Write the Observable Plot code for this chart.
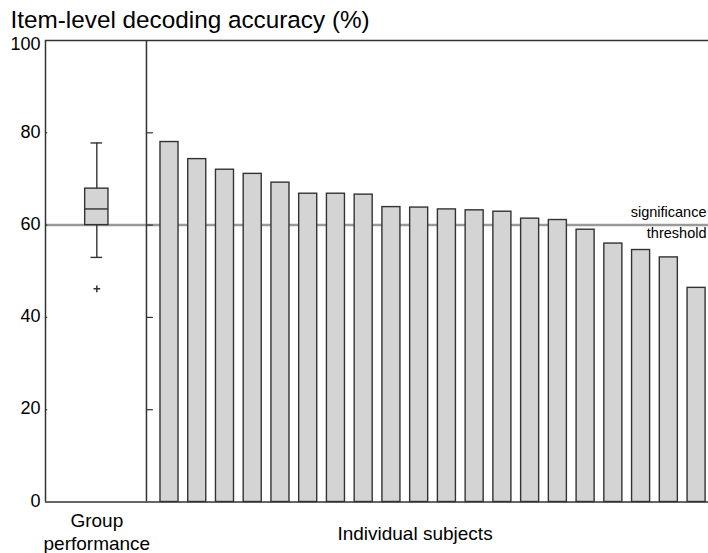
<!DOCTYPE html>
<html>
<head>
<meta charset="utf-8">
<script src="https://cdn.jsdelivr.net/npm/d3@7"></script>
<script src="https://cdn.jsdelivr.net/npm/@observablehq/plot@0.6"></script>
<style>
  html, body { margin: 0; padding: 0; background: #fff; }
  #chart svg { display: block; }
</style>
</head>
<body>
<div id="chart"></div>
<script>
// ---- Data ----
const title = "Item-level decoding accuracy (%)";
const subjectRank = d3.range(1, 21);
const accuracy = [78.0, 74.3, 72.0, 71.1, 69.2, 66.8, 66.8, 66.6, 63.9, 63.8,
                  63.4, 63.2, 62.9, 61.4, 61.1, 59.0, 56.0, 54.6, 53.0, 46.4];
const boxStatNames = ["whiskerLow", "q1", "median", "q3", "whiskerHigh"];
const boxStatValues = [53.0, 60.0, 63.5, 67.9, 77.8];
const outliers = [46.2];
const threshold = 60;
const yTicks = [0, 20, 40, 60, 80, 100];
const dividerTicks = [20, 40, 60, 80];
const groupLabel = "Group\nperformance";
const subjectsLabel = "Individual subjects";
const thresholdLabel = ["significance", "threshold"];

// ---- Layout (scale units along x: subject rank) ----
const xDomain = [-3.47, 20.43];
const divider = 0.17;
const groupX = -1.62;
const barHalf = 0.325;
const boxHalf = 0.42;
const capHalf = 0.21;
const subjectsLabelX = 9.85;

const bars = subjectRank.map((k, i) => ({k, v: accuracy[i]}));
const box = Object.fromEntries(boxStatNames.map((n, i) => [n, boxStatValues[i]]));

const ink = "#333";
const fillGray = "#d4d4d4";
const sw = 1.4;

const chart = Plot.plot({
  width: 708,
  height: 553,
  marginTop: 40,
  marginBottom: 51.5,
  marginLeft: 45,
  marginRight: 0,
  style: {fontFamily: "'Liberation Sans', Arial, sans-serif", background: "#fff", color: "#000", overflow: "visible"},
  x: {domain: xDomain, axis: null},
  y: {domain: [0, 100], axis: null},
  marks: [
    // threshold line
    Plot.ruleY([threshold], {stroke: "#9a9a9a", strokeWidth: 2.5}),
    // subject bars
    Plot.rectY(bars, {x1: d => d.k - barHalf, x2: d => d.k + barHalf, y1: 0, y2: "v",
                      fill: fillGray, stroke: ink, strokeWidth: sw}),
    // boxplot
    Plot.ruleX([groupX], {y1: box.q3, y2: box.whiskerHigh, stroke: ink, strokeWidth: sw}),
    Plot.ruleX([groupX], {y1: box.whiskerLow, y2: box.q1, stroke: ink, strokeWidth: sw}),
    Plot.ruleY([box.whiskerLow, box.whiskerHigh], {x1: groupX - capHalf, x2: groupX + capHalf, stroke: ink, strokeWidth: sw}),
    Plot.rect([box], {x1: groupX - boxHalf, x2: groupX + boxHalf, y1: "q1", y2: "q3",
                      fill: fillGray, stroke: ink, strokeWidth: sw}),
    Plot.ruleY([box.median], {x1: groupX - boxHalf, x2: groupX + boxHalf, stroke: ink, strokeWidth: sw}),
    Plot.dot(outliers, {x: groupX, y: d => d, symbol: "plus", r: 2.3, stroke: ink, strokeWidth: 1.5}),
    // frame lines
    Plot.ruleX([xDomain[0], divider], {stroke: ink, strokeWidth: 1.5}),
    Plot.ruleY([0, 100], {stroke: ink, strokeWidth: 1.5}),
    // inward ticks
    Plot.ruleY(yTicks.slice(1, 5), {x1: xDomain[0], x2: xDomain[0] + 0.08, stroke: ink, strokeWidth: 1.2}),
    Plot.ruleY(dividerTicks, {x1: divider, x2: divider + 0.25, stroke: ink, strokeWidth: 1.2}),
    // y tick labels
    Plot.axisY(yTicks.slice(0, 5), {anchor: "left", tickSize: 0, tickPadding: 5, fontSize: 18, dy: -1}),
    Plot.axisY(yTicks.slice(5), {anchor: "left", tickSize: 0, tickPadding: 5, fontSize: 18, dy: 3.5}),
    // threshold labels
    Plot.text([thresholdLabel[0]], {x: xDomain[1], y: threshold, dx: -2, dy: -12.5, textAnchor: "end", lineAnchor: "middle", fontSize: 14.5}),
    Plot.text([thresholdLabel[1]], {x: xDomain[1], y: threshold, dx: -2, dy: 8, textAnchor: "end", lineAnchor: "middle", fontSize: 14.5}),
    // bottom labels
    Plot.text([groupLabel], {x: groupX, y: 0, dy: 29.3, fontSize: 19, lineHeight: 1.21, textAnchor: "middle", lineAnchor: "middle"}),
    Plot.text([subjectsLabel], {x: subjectsLabelX, y: 0, dy: 31.7, fontSize: 19, textAnchor: "middle", lineAnchor: "middle"}),
    // title
    Plot.text([title], {frameAnchor: "top-left", dx: -35, dy: -20.7, textAnchor: "start", lineAnchor: "middle", fontSize: 24.3})
  ]
});

document.getElementById("chart").appendChild(chart);
</script>
</body>
</html>
